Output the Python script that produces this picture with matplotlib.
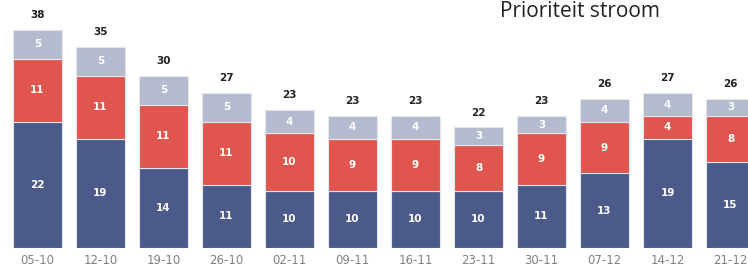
import numpy as np
import matplotlib
matplotlib.use('Agg')
import matplotlib.pyplot as plt

weeks = ['05-10', '12-10', '19-10', '26-10', '02-11', '09-11', '16-11',
         '23-11', '30-11', '07-12', '14-12', '21-12']
bottom_vals = [22, 19, 14, 11, 10, 10, 10, 10, 11, 13, 19, 15]
middle_vals = [11, 11, 11, 11, 10, 9, 9, 8, 9, 9, 4, 8]
top_vals = [5, 5, 5, 5, 4, 4, 4, 3, 3, 4, 4, 3]
totals = [38, 35, 30, 27, 23, 23, 23, 22, 23, 26, 27, 26]

c_blue = '#4b5a88'
c_red = '#e0564f'
c_grey = '#b4bbce'

fig = plt.figure(figsize=(7.48, 2.71), dpi=100)
ax = fig.add_axes([0, 23 / 271, 1, 248 / 271])

x = np.arange(len(weeks))
b = np.array(bottom_vals)
m = np.array(middle_vals)
t = np.array(top_vals)
w = 0.78
edge = dict(edgecolor='#e4e7ee', linewidth=0.8)
ax.bar(x, b, w, color=c_blue, **edge)
ax.bar(x, m, w, bottom=b, color=c_red, **edge)
ax.bar(x, t, w, bottom=b + m, color=c_grey, **edge)

lab = dict(ha='center', va='center', color='white', fontsize=7.5,
           fontweight='bold')
for i in range(len(x)):
    ax.text(x[i], b[i] / 2, str(b[i]), **lab)
    ax.text(x[i], b[i] + m[i] / 2, str(m[i]), **lab)
    ax.text(x[i], b[i] + m[i] + t[i] / 2, str(t[i]), **lab)
    ax.text(x[i], b[i] + m[i] + t[i] + 2.6, str(totals[i]), ha='center',
            va='center', color='#222222', fontsize=7.5, fontweight='bold')

ax.set_xlim(-37.5 / 63, (748 - 37.5) / 63)
ax.set_ylim(0, 248 / 5.74)
ax.set_xticks(x)
ax.set_xticklabels(weeks, color='#808080', fontsize=8.5)
ax.tick_params(axis='x', length=0, pad=4)
ax.set_yticks([])
for s in ax.spines.values():
    s.set_visible(False)

# title sits at the top right, pushed down a little so it is not clipped
fig.text(500 / 748, 1 - 17 / 271, 'Prioriteit stroom', fontsize=15,
         color='#222222', ha='left', va='baseline', family='Open Sans')

fig.savefig('out.png', dpi=100, facecolor='white')
